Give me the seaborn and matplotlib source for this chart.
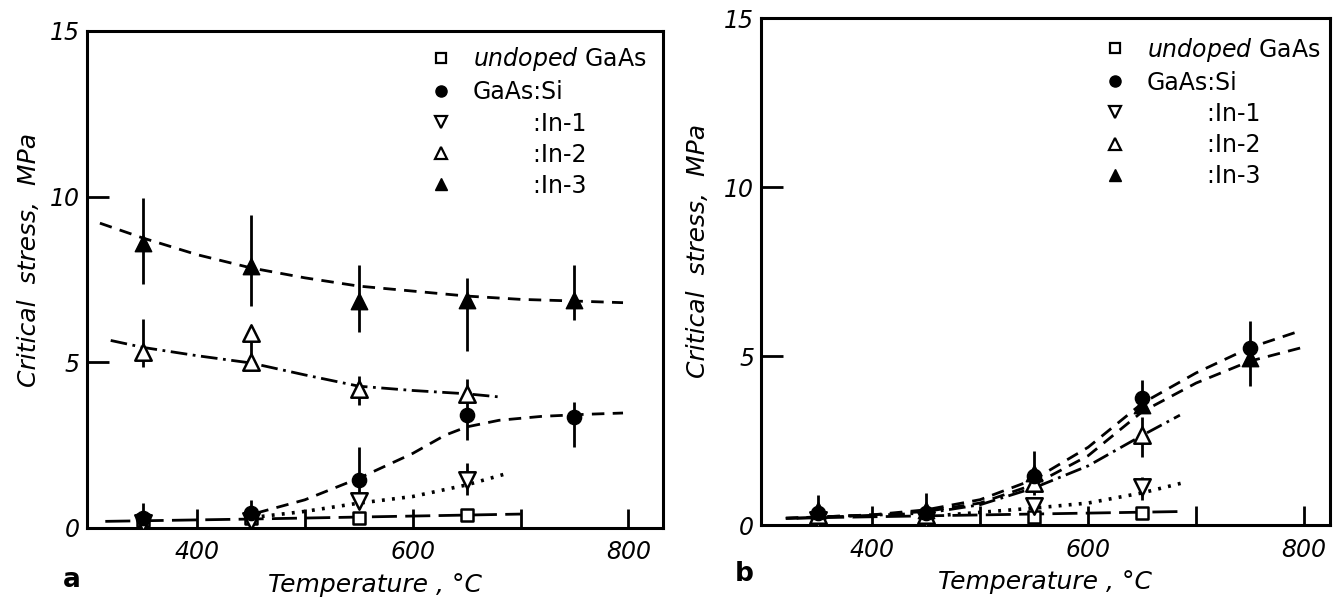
import matplotlib
matplotlib.use("Agg")
import matplotlib.pyplot as plt
from matplotlib.lines import Line2D
import pandas as pd
import seaborn as sns

# ---------------- panel a : measured critical stress (MPa) ----------------
a_undoped_t = [350, 450, 550, 650]
a_undoped_v = [0.25, 0.3, 0.3, 0.4]
a_si_t = [350, 450, 550, 650, 750]
a_si_v = [0.3, 0.45, 1.45, 3.4, 3.35]
a_in1_t = [350, 450, 550, 650]
a_in1_v = [0.15, 0.2, 0.8, 1.45]
a_in2_t = [350, 450, 450, 550, 650]
a_in2_v = [5.3, 5.0, 5.87, 4.2, 4.05]
a_in3_t = [350, 450, 550, 650, 750]
a_in3_v = [8.6, 7.9, 6.85, 6.87, 6.87]

# scatter ranges (temperature, low, high)
a_err_t = [350, 350, 350, 450, 450, 450, 550, 550, 550, 650, 650, 650, 650, 750, 750]
a_err_lo = [7.35, 4.85, 0.0, 6.7, 5.0, 0.0, 5.9, 3.7, 0.8, 5.35, 3.9, 2.65, 1.0, 6.27, 2.45]
a_err_hi = [9.95, 6.3, 0.75, 9.45, 5.9, 0.85, 7.95, 4.6, 2.45, 7.55, 4.5, 4.2, 1.95, 7.95, 3.8]

# fitted trend curves
a_fit_undoped_t = [315, 450, 550, 700]
a_fit_undoped_v = [0.2, 0.27, 0.33, 0.42]
a_fit_si_t = [455, 500, 550, 600, 630, 650, 680, 720, 760, 795]
a_fit_si_v = [0.45, 0.85, 1.5, 2.25, 2.8, 3.05, 3.25, 3.37, 3.43, 3.47]
a_fit_in1_t = [460, 500, 550, 600, 650, 688]
a_fit_in1_v = [0.35, 0.5, 0.75, 0.95, 1.3, 1.65]
a_fit_in2_t = [320, 350, 400, 450, 500, 550, 600, 650, 682]
a_fit_in2_v = [5.66, 5.45, 5.2, 4.98, 4.62, 4.28, 4.15, 4.05, 3.95]
a_fit_in3_t = [310, 350, 400, 450, 500, 550, 600, 650, 700, 750, 795]
a_fit_in3_v = [9.2, 8.75, 8.25, 7.85, 7.55, 7.3, 7.15, 7.0, 6.9, 6.85, 6.8]

# ---------------- panel b : measured critical stress (MPa) ----------------
b_undoped_t = [350, 450, 550, 650]
b_undoped_v = [0.2, 0.2, 0.25, 0.36]
b_si_t = [350, 450, 550, 650, 750]
b_si_v = [0.35, 0.35, 1.45, 3.75, 5.25]
b_in1_t = [350, 450, 550, 650]
b_in1_v = [0.15, 0.15, 0.55, 1.12]
b_in2_t = [350, 450, 550, 650]
b_in2_v = [0.3, 0.3, 1.25, 2.66]
b_in3_t = [350, 450, 550, 650, 750]
b_in3_v = [0.45, 0.45, 1.55, 3.55, 4.95]

b_err_t = [350, 450, 550, 650, 650, 650, 750]
b_err_lo = [0.0, 0.0, 0.9, 3.3, 2.02, 0.75, 4.1]
b_err_hi = [0.9, 0.95, 2.2, 4.3, 3.2, 1.42, 6.05]

b_fit_undoped_t = [320, 688]
b_fit_undoped_v = [0.2, 0.4]
b_fit_si_t = [320, 400, 450, 500, 550, 600, 650, 700, 750, 797]
b_fit_si_v = [0.2, 0.3, 0.45, 0.75, 1.35, 2.3, 3.6, 4.5, 5.25, 5.75]
b_fit_in1_t = [470, 550, 600, 650, 688]
b_fit_in1_v = [0.3, 0.5, 0.65, 0.95, 1.25]
b_fit_in2_t = [330, 450, 500, 550, 600, 650, 685]
b_fit_in2_v = [0.2, 0.35, 0.6, 1.1, 1.75, 2.65, 3.25]
b_fit_in3_t = [320, 400, 450, 500, 550, 600, 650, 700, 750, 798]
b_fit_in3_v = [0.2, 0.3, 0.4, 0.65, 1.2, 2.05, 3.35, 4.2, 4.85, 5.25]

series_names = [r"$\it{undoped}$ GaAs", "GaAs:Si", ":In-1", ":In-2", ":In-3"]
x_ticks = [400, 500, 600, 700, 800]
x_ticklabels = ["400", "", "600", "", "800"]
y_ticks = [0, 5, 10, 15]
y_ticklabels = ["0", "5", "10", "15"]

sns.set_theme(style="white")
plt.rcParams["font.family"] = ["DejaVu Sans"]
plt.rcParams["mathtext.fontset"] = "dejavusans"
for key in ("text.color", "axes.labelcolor", "xtick.color", "ytick.color",
            "axes.edgecolor"):
    plt.rcParams[key] = "black"

FS = 17
LW = 2.0
DASHED = (0, (4.5, 3))
DASHDOT = (0, (6, 2, 1, 2))
DOTTED = (0, (0.8, 2.0))
LONGDASH = (0, (9, 3))

MARKERS = {
    "undoped": dict(marker="s", s=80, facecolor="white", edgecolor="black", linewidth=1.8),
    "si": dict(marker="o", s=105, facecolor="black", edgecolor="black", linewidth=1.0),
    "in1": dict(marker="v", s=140, facecolor="white", edgecolor="black", linewidth=1.8),
    "in2": dict(marker="^", s=140, facecolor="white", edgecolor="black", linewidth=1.8),
    "in3": dict(marker="^", s=140, facecolor="black", edgecolor="black", linewidth=1.0),
}


def fit_line(ax, t, v, ls, lw=LW):
    df = pd.DataFrame({"t": t, "v": v})
    sns.lineplot(data=df, x="t", y="v", ax=ax, color="black", lw=lw,
                 linestyle=ls, errorbar=None, sort=False, zorder=2)


def points(ax, t, v, key):
    df = pd.DataFrame({"t": t, "v": v})
    sns.scatterplot(data=df, x="t", y="v", ax=ax, zorder=4, legend=False,
                    **MARKERS[key])


def style_axes(ax, xlim):
    ax.set_xlim(*xlim)
    ax.set_ylim(0, 15)
    ax.set_xticks(x_ticks)
    ax.set_xticklabels(x_ticklabels)
    ax.set_yticks(y_ticks)
    ax.set_yticklabels(y_ticklabels)
    for sp in ax.spines.values():
        sp.set_visible(True)
        sp.set_linewidth(2.2)
        sp.set_color("black")
    ax.tick_params(axis="x", direction="in", length=14, width=2.0,
                   labelsize=FS, pad=9, colors="black", bottom=True)
    ax.tick_params(axis="y", direction="in", length=16, width=2.0,
                   labelsize=FS, pad=5, colors="black", left=True)
    for lab in ax.get_xticklabels() + ax.get_yticklabels():
        lab.set_fontstyle("italic")
    ax.set_xlabel("Temperature , °C", fontsize=18, fontstyle="italic",
                  labelpad=6, color="black")
    ax.set_ylabel("Critical  stress,  MPa", fontsize=18, fontstyle="italic",
                  color="black")
    ax.grid(False)

    handles = [
        Line2D([], [], ls="none", marker="s", ms=7, mfc="white", mec="black", mew=1.6),
        Line2D([], [], ls="none", marker="o", ms=8, mfc="black", mec="black"),
        Line2D([], [], ls="none", marker="v", ms=9, mfc="white", mec="black", mew=1.6),
        Line2D([], [], ls="none", marker="^", ms=9, mfc="white", mec="black", mew=1.6),
        Line2D([], [], ls="none", marker="^", ms=9, mfc="black", mec="black"),
    ]
    labels = [series_names[0], series_names[1]] + [" " * 8 + n for n in series_names[2:]]
    return handles, labels


fig = plt.figure(figsize=(13.36, 5.97), dpi=100)
ax_a = fig.add_axes([0.0651, 0.1156, 0.4311, 0.8325])
ax_b = fig.add_axes([0.5696, 0.1206, 0.4259, 0.8492])

# ---- panel a ----
fit_line(ax_a, a_fit_undoped_t, a_fit_undoped_v, LONGDASH)
fit_line(ax_a, a_fit_si_t, a_fit_si_v, DASHED)
fit_line(ax_a, a_fit_in1_t, a_fit_in1_v, DOTTED, lw=2.6)
fit_line(ax_a, a_fit_in2_t, a_fit_in2_v, DASHDOT)
fit_line(ax_a, a_fit_in3_t, a_fit_in3_v, DASHED)
ax_a.vlines(a_err_t, a_err_lo, a_err_hi, color="black", lw=2.0, zorder=3)
points(ax_a, a_undoped_t, a_undoped_v, "undoped")
points(ax_a, a_in1_t, a_in1_v, "in1")
points(ax_a, a_si_t, a_si_v, "si")
points(ax_a, a_in2_t, a_in2_v, "in2")
points(ax_a, a_in3_t, a_in3_v, "in3")
h, l = style_axes(ax_a, (298, 832))
leg = ax_a.legend(h, l, loc="upper left", bbox_to_anchor=(0.578, 0.99), frameon=False,
                  fontsize=FS, handlelength=1.0, handletextpad=0.85, labelspacing=0.3,
                  borderaxespad=0.0)
for t in leg.get_texts():
    t.set_color("black")
ax_a.yaxis.set_label_coords(-0.08, 0.54)

# ---- panel b ----
fit_line(ax_b, b_fit_undoped_t, b_fit_undoped_v, LONGDASH)
fit_line(ax_b, b_fit_si_t, b_fit_si_v, DASHED)
fit_line(ax_b, b_fit_in1_t, b_fit_in1_v, DOTTED, lw=2.6)
fit_line(ax_b, b_fit_in2_t, b_fit_in2_v, DASHDOT)
fit_line(ax_b, b_fit_in3_t, b_fit_in3_v, DASHED)
ax_b.vlines(b_err_t, b_err_lo, b_err_hi, color="black", lw=2.0, zorder=3)
points(ax_b, b_undoped_t, b_undoped_v, "undoped")
points(ax_b, b_in1_t, b_in1_v, "in1")
points(ax_b, b_in2_t, b_in2_v, "in2")
points(ax_b, b_si_t, b_si_v, "si")
points(ax_b, b_in3_t, b_in3_v, "in3")
h, l = style_axes(ax_b, (297, 824))
leg = ax_b.legend(h, l, loc="upper left", bbox_to_anchor=(0.585, 0.984), frameon=False,
                  fontsize=FS, handlelength=1.0, handletextpad=0.85, labelspacing=0.3,
                  borderaxespad=0.0)
for t in leg.get_texts():
    t.set_color("black")
ax_b.yaxis.set_label_coords(-0.09, 0.54)

fig.text(72 / 1336, 1 - 580 / 597, "a", ha="center", va="center",
         fontsize=19, fontweight="bold", color="black")
fig.text(744 / 1336, 1 - 574 / 597, "b", ha="center", va="center",
         fontsize=19, fontweight="bold", color="black")

fig.savefig("out.png", dpi=100, facecolor="white")
